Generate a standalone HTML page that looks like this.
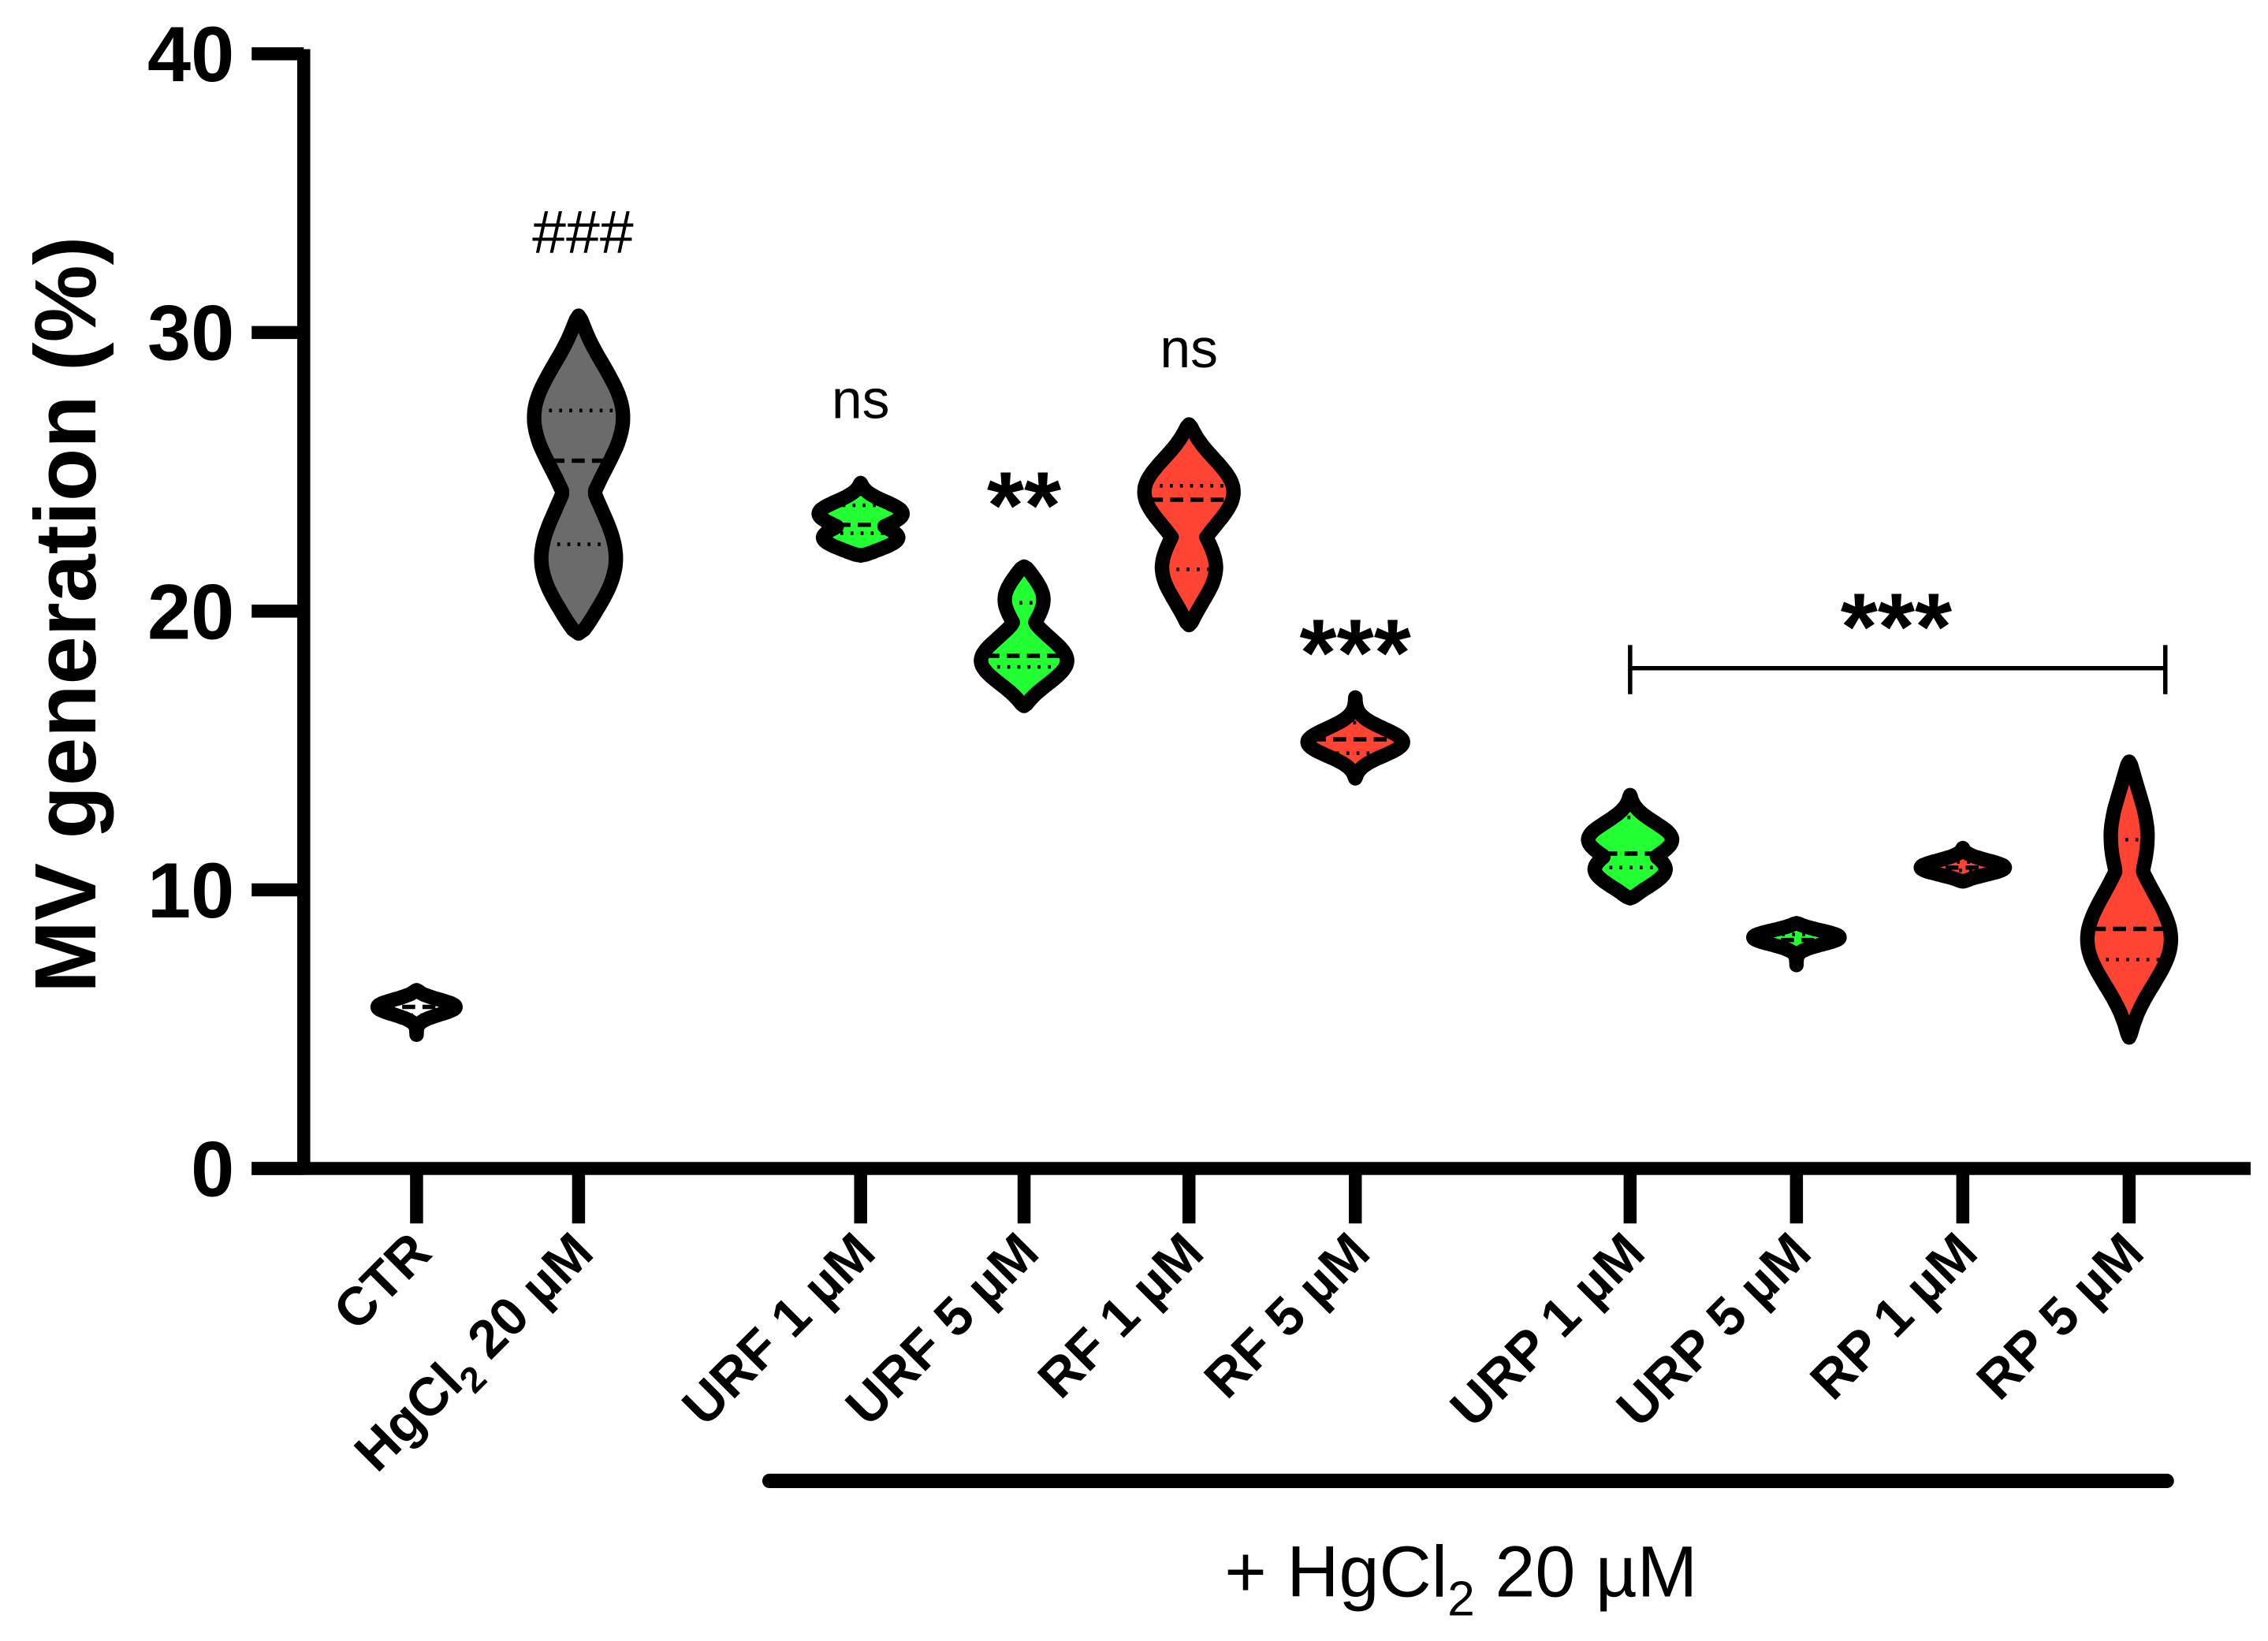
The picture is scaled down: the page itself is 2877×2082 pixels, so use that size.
<!DOCTYPE html>
<html><head><meta charset="utf-8"><style>
html,body{margin:0;padding:0;background:#fff}
svg{display:block}
text{font-family:"Liberation Sans",Arial,sans-serif}
</style></head><body>
<svg id="chart" xmlns="http://www.w3.org/2000/svg" width="2877" height="2082" viewBox="0 0 1568 1134.7">
<g id="violins"></g>
<g id="axes"></g>
<text x="0" y="0" transform="translate(66,425) rotate(-90)" text-anchor="middle" font-size="60" font-weight="bold">MV generation (%)</text>
<text x="403" y="175" text-anchor="middle" font-size="42">###</text>
<text x="595" y="289" text-anchor="middle" font-size="38">ns</text>
<text x="822" y="254" text-anchor="middle" font-size="38">ns</text>
<text x="708" y="372" text-anchor="middle" font-size="66" font-weight="bold">**</text>
<text x="937" y="474" text-anchor="middle" font-size="66" font-weight="bold">***</text>
<text x="1311" y="456" text-anchor="middle" font-size="66" font-weight="bold">***</text>
<g stroke="#000" stroke-width="3">
<line x1="1127" y1="462" x2="1497" y2="462"/><line x1="1127" y1="446" x2="1127" y2="480"/><line x1="1497" y1="446" x2="1497" y2="480"/>
</g>
<line x1="532" y1="1024" x2="1498" y2="1024" stroke="#000" stroke-width="10" stroke-linecap="round"/>
<text x="1010" y="1104" text-anchor="middle" font-size="50">+ HgCl<tspan font-size="34" dy="13">2</tspan><tspan dy="-13"> 20 µM</tspan></text>
</svg>
<script>
const categories=["CTR","HgCl2 20 µM","URF 1 µM","URF 5 µM","RF 1 µM","RF 5 µM","URP 1 µM","URP 5 µM","RP 1 µM","RP 5 µM"];
const vMin=[4.8,19.2,22.0,16.6,19.5,14.0,9.7,7.3,10.3,4.7];
const vMax=[6.4,30.6,24.6,21.6,26.7,16.9,13.4,8.8,11.5,14.6];
const vMedian=[5.8,25.4,23.1,18.4,24.0,15.4,11.3,8.2,10.8,8.6];
const vQ1=[5.5,22.4,22.8,18.0,21.5,14.9,10.8,8.0,10.7,7.5];
const vQ3=[6.1,27.2,23.8,20.3,24.5,16.0,12.6,8.4,11.0,11.8];
const modes=[[5.8],[27.0,21.7],[23.5,22.6],[18.2,20.5],[24.3,21.5],[15.3],[11.8,10.7],[8.3],[10.8],[8.2,12.0]];
const modeWidths=[[27],[31,27],[29,27],[30,14],[31,19],[33],[29,25],[30],[29],[29,13]];
const fills=["#ffffff","#6b6b6b","#22ff33","#22ff33","#ff4433","#ff4433","#22ff33","#22ff33","#ff4433","#ff4433"];
const yTicks=[0,10,20,30,40];

const NS="http://www.w3.org/2000/svg";
const xPos=[288,400,595,708,822,937,1127,1242,1357,1472];
function ys(v){return 808-v*19.27;}
function xs(i){return xPos[i];}
function mk(tag,attrs,parent){const e=document.createElementNS(NS,tag);for(const k in attrs)e.setAttribute(k,attrs[k]);parent.appendChild(e);return e;}
function hw(i,v){
  const lo=vMin[i],hi=vMax[i];const s=Math.max((hi-lo)/6,0.25);
  let w=0;modes[i].forEach((m,j)=>{w=Math.max(w,modeWidths[i][j]*Math.exp(-0.5*((v-m)/s)**2));});
  const t=(2*v-lo-hi)/(hi-lo);return w*Math.sqrt(Math.max(0,1-t**4));
}
const vg=document.getElementById('violins');
categories.forEach((c,i)=>{
  const g=mk('g',{},vg);
  
  
  const N=80,L=[],R=[];
  for(let k=0;k<=N;k++){const v=vMin[i]+(vMax[i]-vMin[i])*k/N;const w=hw(i,v);L.push([xs(i)-w,ys(v)]);R.push([xs(i)+w,ys(v)]);}
  const pts=L.concat(R.reverse()).map(p=>p[0].toFixed(1)+','+p[1].toFixed(1)).join(' ');
  mk('polygon',{points:pts,fill:fills[i],stroke:'#000','stroke-width':10,'stroke-linejoin':'round'},g);
  [[vQ1[i],'2,5',2.5],[vQ3[i],'2,5',2.5],[vMedian[i],'9,5',3]].forEach(([v,d,sw])=>{
    const w=hw(i,v)-3;if(w<1)return;
    mk('line',{x1:xs(i)-w,x2:xs(i)+w,y1:ys(v),y2:ys(v),stroke:'#000','stroke-width':sw,'stroke-dasharray':d},g);
  });
});
const ag=document.getElementById('axes');
const ya=mk('line',{x1:210,y1:34,x2:210,y2:812,stroke:'#000','stroke-width':9},ag);

const xa=mk('line',{x1:174,y1:808,x2:1556,y2:808,stroke:'#000','stroke-width':9},ag);

yTicks.forEach(t=>{
  const tl=mk('line',{x1:174,x2:210,y1:ys(t),y2:ys(t),stroke:'#000','stroke-width':9},ag);
  
  const tx=mk('text',{x:162,y:ys(t)+19,'text-anchor':'end','font-size':54,'font-weight':'bold'},ag);
  tx.textContent=t;
  
});
categories.forEach((c,i)=>{
  const tl=mk('line',{x1:xs(i),x2:xs(i),y1:808,y2:846,stroke:'#000','stroke-width':9},ag);
  
  const tx=mk('text',{x:0,y:0,'text-anchor':'end','font-size':37,'font-weight':'bold',transform:'translate('+(xs(i)+12)+',868) rotate(-45)'},ag);
  if(c.indexOf('HgCl2')===0){tx.innerHTML='HgCl<tspan font-size="25" dy="9">2</tspan><tspan dy="-9"> 20 µM</tspan>';}
  else tx.textContent=c;
  
});
</script>
</body></html>
